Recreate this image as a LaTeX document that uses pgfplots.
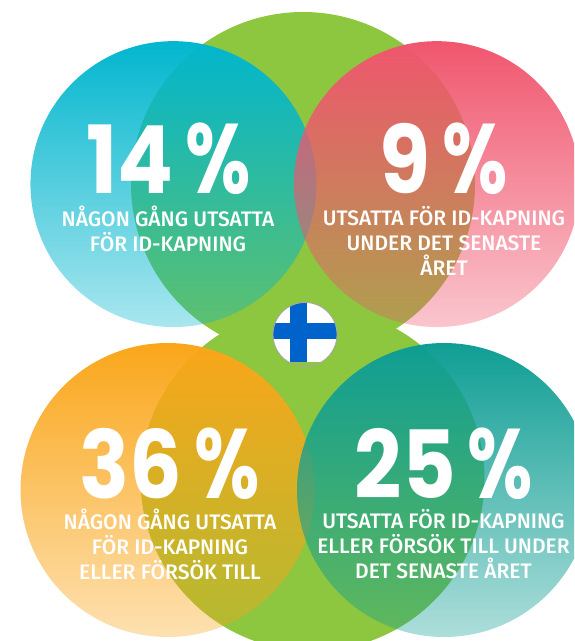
\documentclass[border=0pt]{standalone}
\usepackage{fontspec}
\usepackage{graphicx}
\usepackage{pgfplots}
\pgfplotsset{compat=1.18}
\usetikzlibrary{fadings}
\setmainfont{Fira Sans}[UprightFont=* Medium]
\newfontfamily\numfont{Poppins}[UprightFont=* Bold]
\definecolor{lime}{HTML}{8DC63F}
\definecolor{cyanC}{HTML}{02B6CE}
\definecolor{redC}{HTML}{F0566E}
\definecolor{orangeC}{HTML}{FAA61A}
\definecolor{tealC}{HTML}{0F9E94}
\definecolor{flagblue}{HTML}{0063CC}
\tikzfading[name=discfade, top color=transparent!0, bottom color=transparent!66]
\pgfdeclareplotmark{fadedisc}{%
  \fill[draw=none, path fading=discfade, fit fading=true] (0,0) circle[radius=\pgfplotmarksize];
}
\pgfdeclareplotmark{flatdisc}{%
  \fill[draw=none] (0,0) circle[radius=\pgfplotmarksize];
}
\newcommand{\pct}[1]{{\numfont\fontsize{94}{94}\selectfont\scalebox{.88}[1]{#1}\hspace{12pt}\scalebox{.8}[1.05]{\%}}}
\tikzset{captxt/.style={text=white, align=center, font=\fontsize{21}{25}\selectfont, inner sep=0pt, anchor=north}}
\begin{document}
\begin{tikzpicture}
\useasboundingbox (0,0) rectangle (574pt,641pt);
\clip (0,0) rectangle (574pt,641pt);
\begin{axis}[
    at={(0,0)}, anchor=south west,
    scale only axis,
    width=574pt, height=641pt,
    xmin=0, xmax=574, ymin=0, ymax=641,
    y dir=reverse,
    hide axis,
    clip=false,
    point meta=explicit,
    /pgf/number format/assume math mode=true,
    every node near coord/.append style={text=white, anchor=center, inner sep=0pt},
    after end axis/.code={
      \node[captxt] at (axis cs:168,205.8) {NÅGON GÅNG UTSATTA\\FÖR ID-KAPNING};
      \node[captxt] at (axis cs:444,205.8) {UTSATTA FÖR ID-KAPNING\\UNDER DET SENASTE\\ÅRET};
      \node[captxt] at (axis cs:170,508.8) {NÅGON GÅNG UTSATTA\\FÖR ID-KAPNING\\ELLER FÖRSÖK TILL};
      \node[captxt] at (axis cs:443.5,508.8) {UTSATTA FÖR ID-KAPNING\\ELLER FÖRSÖK TILL UNDER\\DET SENASTE ÅRET};
      % flag
      \begin{scope}
        \clip (axis cs:305,334.5) circle[radius=32];
        \fill[lime] (axis cs:270,300) rectangle (axis cs:340,370);
        \fill[white] (axis cs:270,300) rectangle (axis cs:340,362);
        \fill[flagblue] (axis cs:290,300) rectangle (axis cs:307,362);
        \fill[flagblue] (axis cs:270,323) rectangle (axis cs:340,339);
      \end{scope}
      \draw[gray!70, line width=0.8pt] (axis cs:305,334.5) circle[radius=32];
    },
]
% green discs
\addplot[only marks, mark=flatdisc, mark size=172pt, mark options={fill=lime, draw opacity=0}] coordinates {(303,184) (312.5,479)};
% the four figures: centre of disc, per cent in meta
\addplot[only marks, mark=fadedisc, mark size=143pt, mark options={fill=cyanC, draw opacity=0},
  nodes near coords={\pct{\pgfmathprintnumber{\pgfplotspointmeta}}},
  every node near coord/.append style={xshift=-5pt, yshift=25pt}] coordinates {(173.5,184) [14]};
\addplot[only marks, mark=fadedisc, mark size=143pt, mark options={fill=redC, draw opacity=0},
  nodes near coords={\pct{\pgfmathprintnumber{\pgfplotspointmeta}}},
  every node near coord/.append style={xshift=6.5pt, yshift=25pt}] coordinates {(437,184) [9]};
\addplot[only marks, mark=fadedisc, mark size=147pt, mark options={fill=orangeC, draw opacity=0},
  nodes near coords={\pct{\pgfmathprintnumber{\pgfplotspointmeta}}},
  every node near coord/.append style={xshift=2pt, yshift=26pt}] coordinates {(167.5,490) [36]};
\addplot[only marks, mark=fadedisc, mark size=147pt, mark options={fill=tealC, draw opacity=0},
  nodes near coords={\pct{\pgfmathprintnumber{\pgfplotspointmeta}}},
  every node near coord/.append style={xshift=0pt, yshift=26pt}] coordinates {(444,490) [25]};
\end{axis}
\end{tikzpicture}
\end{document}
